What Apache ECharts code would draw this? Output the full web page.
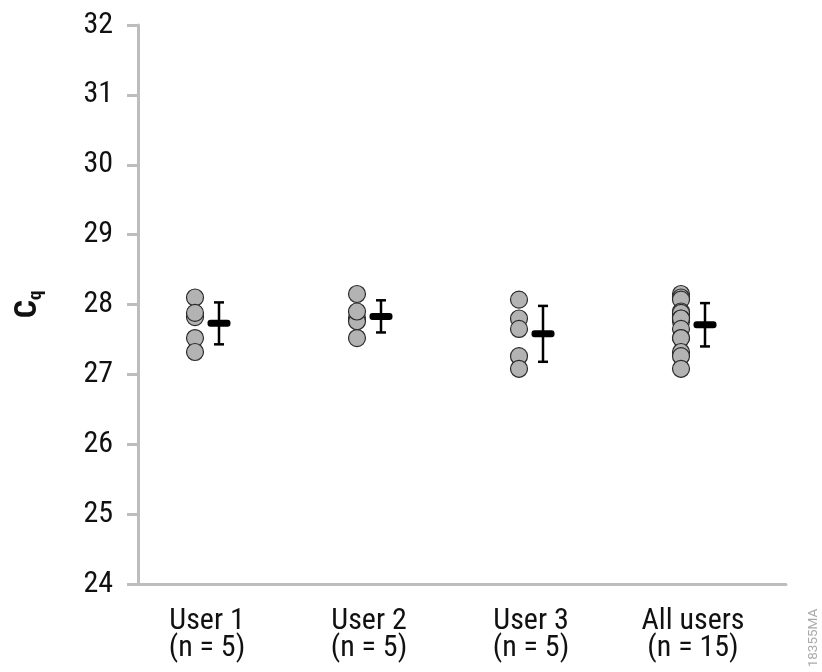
<!DOCTYPE html>
<html>
<head>
<meta charset="utf-8">
<script src="https://cdn.jsdelivr.net/npm/echarts@6/dist/echarts.min.js"></script>
<style>
  html, body { margin: 0; padding: 0; background: #fff; }
  #chart { width: 822px; height: 672px; }
</style>
</head>
<body>
<div id="chart"></div>
<script>
const groupNames = ['User 1', 'User 2', 'User 3', 'All users'];
const groupN = [5, 5, 5, 15];
const yTicks = [24, 25, 26, 27, 28, 29, 30, 31, 32];

const user1 = [28.10, 27.82, 27.88, 27.52, 27.32];
const user2 = [28.15, 27.80, 27.76, 27.90, 27.52];
const user3 = [28.07, 27.80, 27.65, 27.26, 27.08];
const allUsers = [28.15, 28.10, 28.07, 27.90, 27.82, 27.88, 27.80, 27.76, 27.80, 27.65, 27.52, 27.52, 27.32, 27.26, 27.08];

const means = [27.73, 27.83, 27.58, 27.71];
const sds = [0.30, 0.23, 0.40, 0.31];

const font = "'Roboto Condensed', 'Liberation Sans Narrow', 'DejaVu Sans Condensed', Roboto, sans-serif";

const chart = echarts.init(document.getElementById('chart'));

let dots = [];
[user1, user2, user3, allUsers].forEach((vals, i) => {
  vals.forEach(v => dots.push([i, v]));
});

const meanData = means.map((m, i) => [i, m, sds[i]]);

chart.setOption({
  animation: false,
  backgroundColor: '#fff',
  grid: { left: 138, right: 36, top: 25, bottom: 88 },
  xAxis: {
    type: 'category',
    data: groupNames,
    boundaryGap: true,
    axisLine: { lineStyle: { color: '#bdbdbd', width: 3 } },
    axisTick: { show: false },
    axisLabel: {
      margin: 24,
      interval: 0,
      formatter: function (value, index) {
        return '{a|' + value + '}\n{a|(n = ' + groupN[index] + ')}';
      },
      rich: {
        a: { fontFamily: font, fontSize: 30, lineHeight: 27, color: '#111', padding: [0, 24, 0, 0] }
      }
    }
  },
  yAxis: {
    type: 'value',
    min: yTicks[0],
    max: yTicks[yTicks.length - 1],
    interval: 1,
    name: '{c|C}{q|q}',
    nameLocation: 'middle',
    nameGap: 92,
    nameTextStyle: {
      rich: {
        c: { fontFamily: font, fontSize: 32, fontWeight: 'bold', color: '#111', lineHeight: 36 },
        q: { fontFamily: font, fontSize: 19, fontWeight: 'bold', color: '#111', lineHeight: 36, verticalAlign: 'bottom' }
      }
    },
    axisLine: { show: true, lineStyle: { color: '#bdbdbd', width: 3 } },
    axisTick: { show: true, length: 11, lineStyle: { color: '#bdbdbd', width: 3 } },
    splitLine: { show: false },
    axisLabel: { margin: 25, fontFamily: font, fontSize: 30, color: '#111' }
  },
  series: [
    {
      type: 'scatter',
      data: dots,
      symbol: 'circle',
      symbolSize: 17,
      symbolOffset: [-24, 0],
      itemStyle: { color: '#b3b3b3', borderColor: '#2a2a2a', borderWidth: 1.2, opacity: 1 }
    },
    {
      type: 'custom',
      data: meanData,
      renderItem: function (params, api) {
        const x = api.value(0);
        const m = api.value(1);
        const s = api.value(2);
        const c = api.coord([x, m]);
        const top = api.coord([x, m + s]);
        const bot = api.coord([x, m - s]);
        const st = { stroke: '#000', lineWidth: 2.5 };
        return {
          type: 'group',
          children: [
            { type: 'line', shape: { x1: c[0], y1: top[1], x2: c[0], y2: bot[1] }, style: st },
            { type: 'line', shape: { x1: c[0] - 5, y1: top[1], x2: c[0] + 5, y2: top[1] }, style: st },
            { type: 'line', shape: { x1: c[0] - 5, y1: bot[1], x2: c[0] + 5, y2: bot[1] }, style: st },
            { type: 'rect', shape: { x: c[0] - 11.5, y: c[1] - 3.5, width: 23, height: 7, r: 3 }, style: { fill: '#000' } }
          ]
        };
      }
    }
  ],
  graphic: [
    {
      type: 'text',
      x: 814,
      y: 638,
      rotation: Math.PI / 2,
      style: { text: '18355MA', fontFamily: 'Roboto, sans-serif', fontSize: 13.5, fill: '#aaa', align: 'center', verticalAlign: 'middle' }
    }
  ]
});
</script>
</body>
</html>
